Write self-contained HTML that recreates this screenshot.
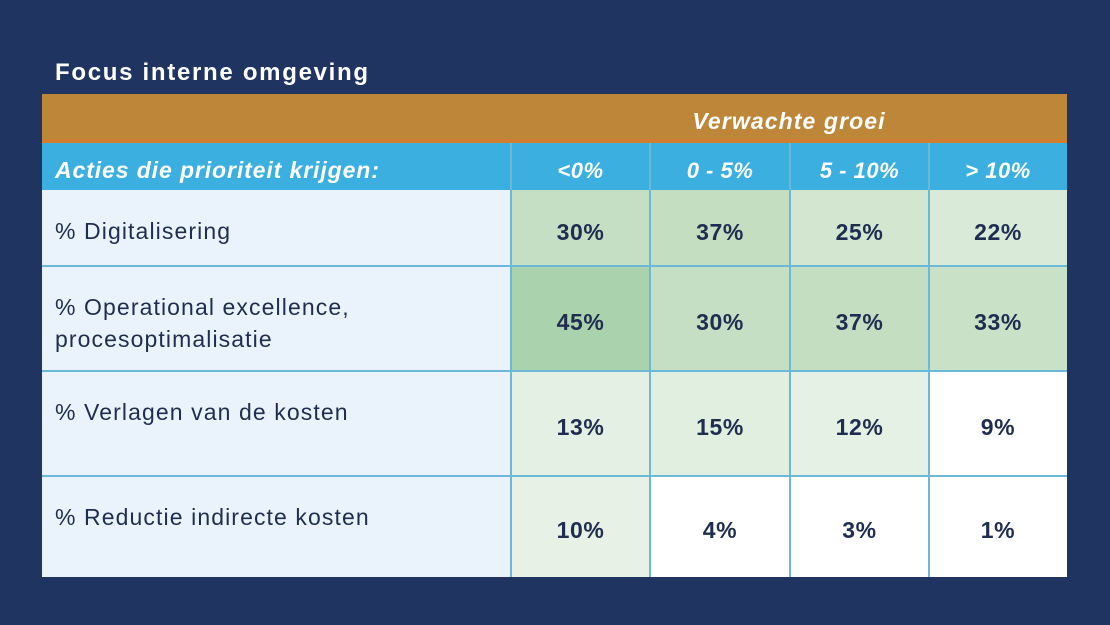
<!DOCTYPE html>
<html><head><meta charset="utf-8"><style>
body{margin:0;width:1110px;height:625px;background:#1F3461;font-family:"Liberation Sans",sans-serif;position:relative;overflow:hidden}
.t{position:absolute;left:55px;top:59px;color:#fff;font-weight:bold;font-size:24px;letter-spacing:1.7px}
.c{position:absolute;box-sizing:border-box;color:#1F2D50}
.v{display:flex;align-items:center;justify-content:center;font-weight:bold;font-size:23px;padding-top:8px;letter-spacing:0.6px}
.l{font-size:23px;line-height:32px;padding:25px 0 0 13px;background:#EAF3FB;letter-spacing:1.1px}
.h{color:#fff;font-style:italic;font-weight:bold;font-size:22px;display:flex;align-items:center;justify-content:center;padding-top:8px;letter-spacing:0.5px}
.line{position:absolute;background:#6BB9D6}
</style></head><body>
<div class="t">Focus interne omgeving</div>
<div class="c" style="left:42px;top:94px;width:1025px;height:46px;background:#BE8638"></div>
<div class="c h" style="left:511px;top:94px;width:556px;height:46px;font-size:23px;letter-spacing:1.1px">Verwachte groei</div>
<div class="c" style="left:42px;top:139px;width:1025px;height:4px;background:#D07F30"></div>
<div class="c" style="left:42px;top:143px;width:1025px;height:47px;background:#3AAFE0"></div>
<div class="c h" style="left:55px;top:143px;height:47px;justify-content:flex-start;font-size:23px;letter-spacing:0.9px">Acties die prioriteit krijgen:</div>
<div class="c h" style="left:511px;top:143px;width:139px;height:47px">&lt;0%</div>
<div class="c h" style="left:650px;top:143px;width:140px;height:47px">0 - 5%</div>
<div class="c h" style="left:790px;top:143px;width:139px;height:47px">5 - 10%</div>
<div class="c h" style="left:929px;top:143px;width:138px;height:47px">&gt; 10%</div>

<div class="c l" style="left:42px;top:190px;width:469px;height:76px">% Digitalisering</div>
<div class="c l" style="left:42px;top:266px;width:469px;height:105px">% Operational excellence,<br>procesoptimalisatie</div>
<div class="c l" style="left:42px;top:371px;width:469px;height:105px">% Verlagen van de kosten</div>
<div class="c l" style="left:42px;top:476px;width:469px;height:101px">% Reductie indirecte kosten</div>

<div class="c v" style="left:511px;top:190px;width:139px;height:76px;background:#C5DFC4">30%</div>
<div class="c v" style="left:650px;top:190px;width:140px;height:76px;background:#C3DEC0">37%</div>
<div class="c v" style="left:790px;top:190px;width:139px;height:76px;background:#D3E7D0">25%</div>
<div class="c v" style="left:929px;top:190px;width:138px;height:76px;background:#D9EAD8">22%</div>

<div class="c v" style="left:511px;top:266px;width:139px;height:105px;background:#AAD2AC">45%</div>
<div class="c v" style="left:650px;top:266px;width:140px;height:105px;background:#C5DFC4">30%</div>
<div class="c v" style="left:790px;top:266px;width:139px;height:105px;background:#C3DEC0">37%</div>
<div class="c v" style="left:929px;top:266px;width:138px;height:105px;background:#C9E2C7">33%</div>

<div class="c v" style="left:511px;top:371px;width:139px;height:105px;background:#E4F0E3">13%</div>
<div class="c v" style="left:650px;top:371px;width:140px;height:105px;background:#E1EFE0">15%</div>
<div class="c v" style="left:790px;top:371px;width:139px;height:105px;background:#E6F1E5">12%</div>
<div class="c v" style="left:929px;top:371px;width:138px;height:105px;background:#FFFFFF">9%</div>

<div class="c v" style="left:511px;top:476px;width:139px;height:101px;background:#E7F1E6">10%</div>
<div class="c v" style="left:650px;top:476px;width:140px;height:101px;background:#FFFFFF">4%</div>
<div class="c v" style="left:790px;top:476px;width:139px;height:101px;background:#FFFFFF">3%</div>
<div class="c v" style="left:929px;top:476px;width:138px;height:101px;background:#FFFFFF">1%</div>

<div class="line" style="left:42px;top:265px;width:1025px;height:2px"></div>
<div class="line" style="left:42px;top:370px;width:1025px;height:2px"></div>
<div class="line" style="left:42px;top:475px;width:1025px;height:2px"></div>
<div class="line" style="left:510px;top:143px;width:2px;height:434px"></div>
<div class="line" style="left:649px;top:143px;width:2px;height:434px"></div>
<div class="line" style="left:789px;top:143px;width:2px;height:434px"></div>
<div class="line" style="left:928px;top:143px;width:2px;height:434px"></div>
</body></html>
